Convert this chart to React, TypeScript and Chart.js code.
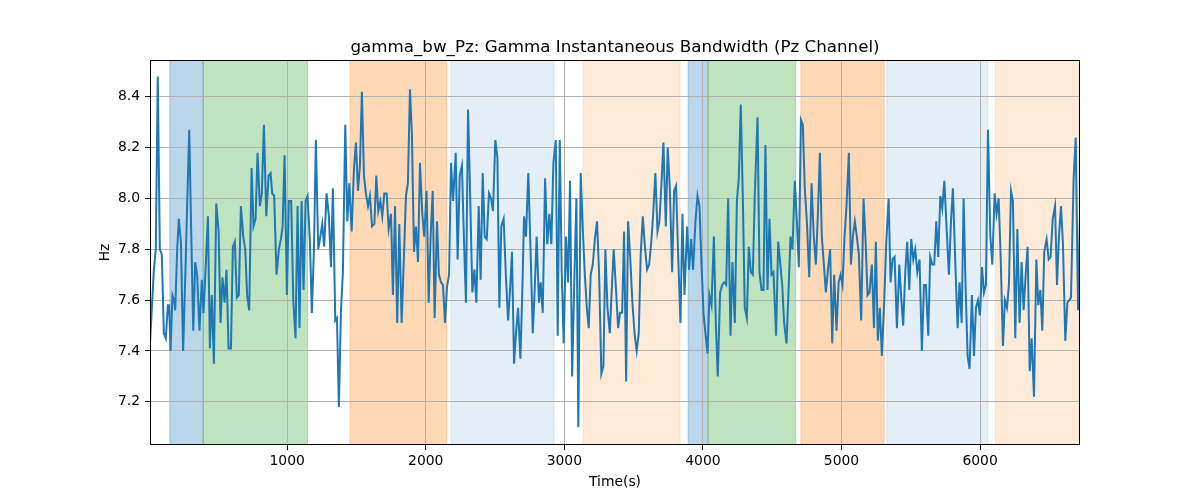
import React, { useEffect, useRef } from "react";
import { Chart, registerables } from "chart.js";

Chart.register(...registerables);

// sample times (s) and bandwidth values (Hz)
const times = [
  10, 38, 52, 66, 81, 95, 110, 124, 139, 148, 158, 172, 184, 192, 206, 218, 233, 249, 266, 278,
  293, 307, 322, 336, 350, 367, 384, 396, 411, 428, 442, 456, 471, 488, 505, 519, 533, 548, 562, 577,
  594, 608, 622, 637, 651, 666, 683, 697, 711, 726, 743, 757, 772, 786, 803, 817, 832, 849, 866, 880,
  892, 906, 923, 940, 955, 967, 981, 998, 1012, 1029, 1044, 1060, 1075, 1089, 1104, 1118, 1133, 1147, 1164, 1178,
  1193, 1207, 1224, 1239, 1253, 1267, 1284, 1301, 1316, 1330, 1347, 1359, 1373, 1388, 1402, 1419, 1434, 1448, 1465, 1482,
  1496, 1511, 1525, 1539, 1554, 1568, 1583, 1597, 1612, 1629, 1643, 1657, 1672, 1686, 1701, 1718, 1732, 1749, 1763, 1778,
  1794, 1809, 1826, 1843, 1857, 1871, 1886, 1900, 1915, 1929, 1944, 1958, 1975, 1989, 2006, 2021, 2035, 2050, 2064, 2081,
  2095, 2110, 2124, 2139, 2153, 2168, 2182, 2197, 2216, 2230, 2245, 2261, 2276, 2290, 2305, 2319, 2336, 2351, 2365, 2382,
  2396, 2411, 2425, 2440, 2456, 2471, 2485, 2502, 2517, 2531, 2545, 2562, 2577, 2594, 2608, 2622, 2637, 2651, 2666, 2683,
  2697, 2709, 2723, 2740, 2757, 2772, 2786, 2800, 2817, 2829, 2844, 2861, 2877, 2892, 2906, 2921, 2938, 2952, 2967, 2981,
  2995, 3012, 3027, 3041, 3056, 3072, 3087, 3101, 3118, 3133, 3147, 3162, 3176, 3190, 3205, 3222, 3236, 3251, 3267, 3282,
  3296, 3311, 3328, 3342, 3356, 3373, 3388, 3402, 3417, 3431, 3446, 3460, 3477, 3491, 3508, 3522, 3537, 3551, 3566, 3583,
  3597, 3612, 3626, 3640, 3657, 3672, 3686, 3701, 3715, 3732, 3746, 3761, 3778, 3792, 3806, 3821, 3838, 3852, 3867, 3886,
  3900, 3915, 3929, 3946, 3961, 3975, 3989, 4004, 4018, 4033, 4047, 4062, 4079, 4093, 4107, 4124, 4139, 4153, 4168, 4182,
  4199, 4213, 4230, 4245, 4259, 4273, 4288, 4302, 4317, 4331, 4346, 4360, 4374, 4394, 4408, 4423, 4437, 4451, 4466, 4480,
  4495, 4509, 4528, 4543, 4557, 4572, 4586, 4603, 4618, 4632, 4646, 4663, 4678, 4692, 4707, 4721, 4735, 4750, 4767, 4784,
  4800, 4815, 4829, 4844, 4858, 4873, 4887, 4902, 4918, 4933, 4947, 4964, 4979, 4993, 5007, 5022, 5036, 5053, 5068, 5082,
  5096, 5111, 5125, 5142, 5159, 5174, 5188, 5202, 5219, 5234, 5248, 5262, 5277, 5291, 5308, 5323, 5340, 5354, 5368, 5383,
  5400, 5417, 5431, 5445, 5460, 5474, 5489, 5503, 5518, 5532, 5547, 5563, 5580, 5595, 5609, 5626, 5640, 5655, 5669, 5684,
  5698, 5713, 5727, 5742, 5756, 5775, 5790, 5804, 5819, 5838, 5852, 5867, 5881, 5896, 5910, 5924, 5941, 5956, 5970, 5985,
  5999, 6014, 6028, 6042, 6057, 6074, 6088, 6105, 6119, 6134, 6148, 6165, 6179, 6194, 6208, 6223, 6237, 6254, 6269, 6285,
  6300, 6314, 6329, 6343, 6358, 6372, 6389, 6406, 6420, 6435, 6449, 6463, 6480, 6495, 6509, 6524, 6541, 6555, 6569, 6584,
  6598, 6615, 6630, 6644, 6656, 6675, 6690, 6707, 6721,
];

const bandwidth = [
  7.43, 7.72, 7.80, 8.48, 7.80, 7.78, 7.47, 7.45, 7.58, 7.58, 7.40, 7.62, 7.60, 7.56, 7.80, 7.92, 7.83, 7.40, 7.72, 7.97,
  8.27, 7.88, 7.48, 7.75, 7.70, 7.48, 7.68, 7.55, 7.72, 7.93, 7.41, 7.62, 7.35, 7.98, 7.87, 7.51, 7.69, 7.59, 7.72, 7.41,
  7.41, 7.81, 7.83, 7.61, 7.62, 7.97, 7.85, 7.80, 7.62, 7.56, 8.12, 7.89, 7.92, 8.18, 7.97, 8.02, 8.29, 7.93, 8.09, 8.10,
  8.02, 8.01, 7.70, 7.80, 7.84, 7.89, 8.17, 7.62, 7.99, 7.99, 7.60, 7.45, 7.97, 7.49, 7.99, 7.64, 7.99, 8.01, 7.83, 7.55,
  7.80, 8.23, 7.80, 7.85, 7.90, 7.81, 8.02, 7.93, 7.73, 8.04, 7.52, 7.53, 7.18, 7.56, 7.71, 8.29, 7.91, 8.06, 7.87, 8.12,
  8.22, 8.03, 8.13, 8.42, 8.09, 8.02, 7.97, 8.01, 7.89, 7.90, 8.09, 7.95, 7.99, 7.93, 8.02, 8.02, 7.88, 7.94, 7.62, 7.97,
  7.51, 7.90, 7.51, 7.78, 8.01, 8.06, 8.43, 8.25, 7.79, 7.89, 7.75, 8.14, 7.94, 7.85, 8.03, 7.59, 7.85, 8.03, 7.53, 7.91,
  7.70, 7.67, 7.66, 7.51, 7.65, 7.70, 8.14, 7.99, 8.18, 7.76, 8.09, 8.13, 7.83, 7.59, 8.35, 8.04, 7.63, 7.72, 7.59, 7.97,
  7.68, 8.10, 7.85, 7.84, 8.02, 8.00, 7.95, 8.23, 8.16, 7.57, 7.89, 7.92, 7.71, 7.52, 7.64, 7.79, 7.35, 7.47, 7.57, 7.37,
  7.64, 7.93, 7.85, 8.10, 7.78, 7.47, 7.64, 7.85, 7.59, 7.67, 7.55, 8.08, 7.82, 7.94, 7.82, 8.14, 8.23, 7.46, 8.23, 7.71,
  7.43, 7.85, 7.67, 8.07, 7.30, 7.68, 8.00, 7.10, 8.10, 7.88, 7.71, 7.57, 7.49, 7.70, 7.74, 7.85, 7.91, 7.70, 7.31, 7.34,
  7.80, 7.57, 7.47, 7.64, 7.80, 7.64, 7.49, 7.55, 7.55, 7.87, 7.28, 7.91, 7.75, 7.59, 7.46, 7.40, 7.47, 7.78, 7.93, 7.80,
  7.72, 7.74, 7.82, 7.93, 8.10, 7.87, 7.91, 8.06, 8.22, 7.89, 8.20, 8.04, 7.71, 8.03, 8.05, 7.78, 7.51, 7.94, 7.62, 7.89,
  7.72, 7.84, 7.72, 7.91, 8.01, 7.97, 7.75, 7.55, 7.47, 7.39, 7.62, 7.58, 7.85, 7.51, 7.30, 7.63, 7.66, 7.67, 7.66, 8.00,
  7.46, 7.75, 7.51, 7.99, 8.08, 8.37, 8.00, 7.57, 7.53, 7.81, 7.71, 7.70, 8.01, 8.32, 7.71, 7.64, 7.64, 8.21, 7.64, 7.92,
  7.70, 7.71, 7.46, 7.83, 7.75, 7.66, 7.51, 7.43, 7.64, 7.85, 7.80, 8.07, 7.91, 7.73, 8.31, 8.29, 8.04, 7.91, 7.69, 8.06,
  7.85, 7.74, 7.93, 8.18, 7.85, 7.74, 7.63, 7.72, 7.80, 7.43, 7.70, 7.48, 7.67, 7.70, 7.66, 7.85, 7.97, 8.18, 7.74, 7.85,
  7.91, 7.85, 7.78, 7.52, 8.00, 7.83, 7.62, 7.63, 7.74, 7.49, 7.83, 7.44, 7.57, 7.38, 7.59, 7.83, 8.00, 7.67, 7.76, 7.77,
  7.49, 7.74, 7.61, 7.50, 7.71, 7.83, 7.64, 7.84, 7.76, 7.80, 7.71, 7.76, 7.40, 7.66, 7.66, 7.46, 7.77, 7.74, 7.74, 7.91,
  7.77, 8.01, 7.96, 8.07, 7.91, 7.70, 7.91, 8.04, 7.78, 7.49, 7.67, 7.51, 8.00, 7.64, 7.38, 7.33, 7.62, 7.38, 7.57, 7.60,
  7.54, 7.73, 7.63, 7.66, 8.27, 7.85, 7.74, 8.02, 7.94, 8.00, 7.78, 7.42, 7.60, 7.57, 7.66, 8.03, 7.99, 7.45, 7.88, 7.51,
  7.75, 7.56, 7.70, 7.81, 7.32, 7.45, 7.22, 7.76, 7.58, 7.64, 7.48, 7.79, 7.84, 7.76, 7.77, 7.92, 7.97, 7.66, 7.85, 7.97,
  7.82, 7.44, 7.59, 7.60, 7.61, 8.08, 8.24, 7.56, 7.93,
];

// shaded intervals (s)
const spanStart = [153, 394, 1453, 2182, 3135, 3893, 4037, 4707, 5327, 6110];
const spanEnd = [394, 1147, 2151, 2926, 3835, 4037, 4670, 5308, 6057, 6721];
const spanKind = ["blue", "green", "orange", "paleBlue", "paleOrange", "blue", "green", "orange", "paleBlue", "paleOrange"];

const xTicks = [1000, 2000, 3000, 4000, 5000, 6000];
const yTicks = [7.2, 7.4, 7.6, 7.8, 8.0, 8.2, 8.4];

const TITLE = "gamma_bw_Pz: Gamma Instantaneous Bandwidth (Pz Channel)";

const spanColors: Record<string, string> = {
  blue: "rgba(31, 119, 180, 0.3)",
  green: "rgba(44, 160, 44, 0.3)",
  orange: "rgba(255, 127, 14, 0.3)",
  paleBlue: "rgba(31, 119, 180, 0.12)",
  paleOrange: "rgba(255, 127, 14, 0.16)",
};

const FONT = "'DejaVu Sans', sans-serif";

const decorations = {
  id: "decorations",
  beforeDraw(chart: any) {
    const { ctx, chartArea: a, scales } = chart;
    ctx.save();
    ctx.fillStyle = "#ffffff";
    ctx.fillRect(0, 0, chart.width, chart.height);
    ctx.beginPath();
    ctx.rect(a.left, a.top, a.right - a.left, a.bottom - a.top);
    ctx.clip();
    spanStart.forEach((s, i) => {
      const x0 = scales.x.getPixelForValue(s);
      const x1 = scales.x.getPixelForValue(spanEnd[i]);
      const c = spanColors[spanKind[i]];
      ctx.fillStyle = c;
      ctx.fillRect(x0, a.top, x1 - x0, a.bottom - a.top);
      ctx.strokeStyle = c;
      ctx.lineWidth = 1;
      ctx.strokeRect(x0, a.top - 2, x1 - x0, a.bottom - a.top + 4);
    });
    ctx.restore();
  },
  afterDraw(chart: any) {
    const { ctx, chartArea: a } = chart;
    ctx.save();
    ctx.strokeStyle = "#000";
    ctx.lineWidth = 1;
    ctx.strokeRect(a.left + 0.5, a.top + 0.5, a.right - a.left - 1, a.bottom - a.top - 1);

    ctx.fillStyle = "#000";
    ctx.textAlign = "center";
    ctx.textBaseline = "alphabetic";
    ctx.font = `16.7px ${FONT}`;
    ctx.fillText(TITLE, (a.left + a.right) / 2, a.top - 8);

    ctx.font = `13.9px ${FONT}`;
    ctx.fillText("Time(s)", (a.left + a.right) / 2, 486);

    ctx.translate(105, (a.top + a.bottom) / 2);
    ctx.rotate(-Math.PI / 2);
    ctx.textBaseline = "middle";
    ctx.fillText("Hz", 0, 0);
    ctx.restore();
  },
};

export default function App() {
  const canvasRef = useRef<HTMLCanvasElement | null>(null);
  const chartRef = useRef<Chart | null>(null);

  useEffect(() => {
    if (!canvasRef.current) return;
    if (chartRef.current) chartRef.current.destroy();

    chartRef.current = new Chart(canvasRef.current, {
      type: "line",
      data: {
        datasets: [
          {
            label: "gamma_bw_Pz",
            data: times.map((t, i) => ({ x: t, y: bandwidth[i] })),
            borderColor: "#1f77b4",
            borderWidth: 2,
            pointRadius: 0,
            tension: 0,
            fill: false,
          },
        ],
      },
      options: {
        animation: false,
        responsive: true,
        maintainAspectRatio: false,
        layout: { padding: { top: 60, right: 120, left: 0, bottom: 0 } },
        plugins: {
          legend: { display: false },
          tooltip: { enabled: false },
          title: { display: false },
        },
        scales: {
          x: {
            type: "linear",
            min: 10,
            max: 6721,
            afterBuildTicks: (scale: any) => {
              scale.ticks = xTicks.map((v) => ({ value: v }));
            },
            afterFit: (scale: any) => {
              scale.height = 55;
            },
            grid: { color: "#b0b0b0", lineWidth: 1, tickColor: "#000", tickLength: 5 },
            border: { display: false },
            ticks: {
              color: "#000",
              font: { family: FONT, size: 13.9 },
              padding: 3,
              maxRotation: 0,
              callback: (v: any) => String(v),
            },
          },
          y: {
            type: "linear",
            min: 7.03,
            max: 8.545,
            afterBuildTicks: (scale: any) => {
              scale.ticks = yTicks.map((v) => ({ value: v }));
            },
            afterFit: (scale: any) => {
              scale.width = 150;
            },
            grid: { color: "#b0b0b0", lineWidth: 1, tickColor: "#000", tickLength: 5 },
            border: { display: false },
            ticks: {
              color: "#000",
              font: { family: FONT, size: 13.9 },
              padding: 5,
              callback: (v: any) => Number(v).toFixed(1),
            },
          },
        },
      },
      plugins: [decorations],
    });

    return () => {
      if (chartRef.current) {
        chartRef.current.destroy();
        chartRef.current = null;
      }
    };
  }, []);

  return (
    <div style={{ position: "absolute", left: 0, top: 0, width: 1200, height: 500, background: "#fff" }}>
      <canvas ref={canvasRef} />
    </div>
  );
}
